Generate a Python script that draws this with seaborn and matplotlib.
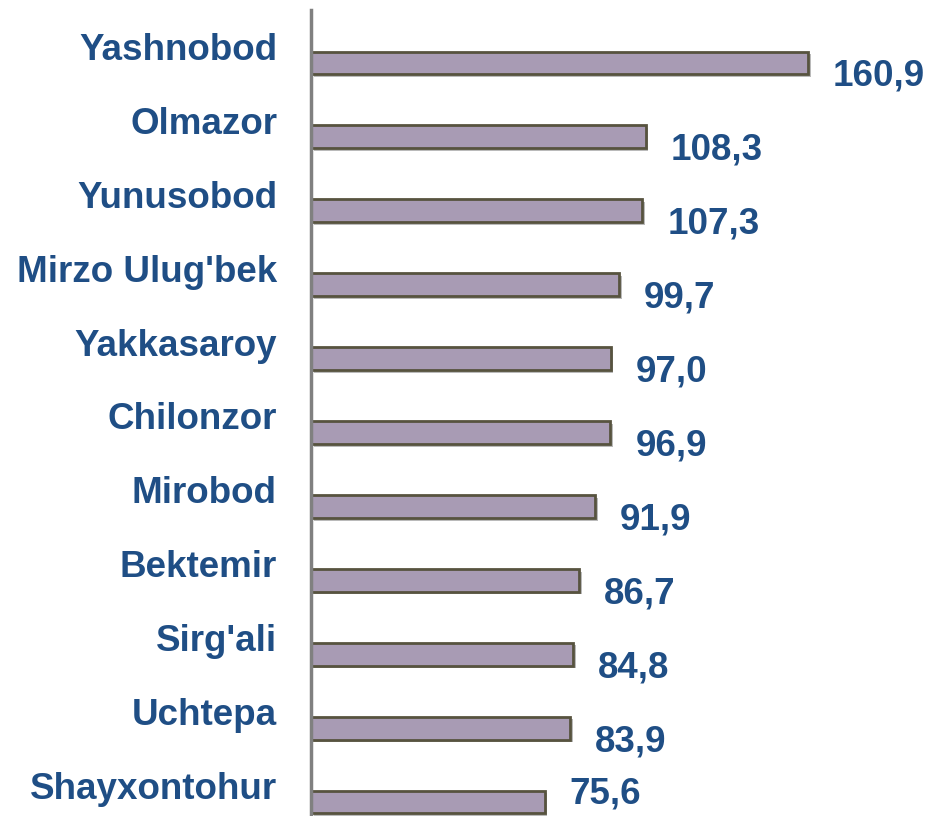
import matplotlib
matplotlib.use("Agg")
import matplotlib.pyplot as plt
import matplotlib.patheffects as pe
import pandas as pd
import seaborn as sns

# --- data ---
districts = ["Yashnobod", "Olmazor", "Yunusobod", "Mirzo Ulug'bek", "Yakkasaroy",
             "Chilonzor", "Mirobod", "Bektemir", "Sirg'ali", "Uchtepa", "Shayxontohur"]
values = [160.9, 108.3, 107.3, 99.7, 97.0, 96.9, 91.9, 86.7, 84.8, 83.9, 75.6]
value_labels = ["160,9", "108,3", "107,3", "99,7", "97,0", "96,9",
                "91,9", "86,7", "84,8", "83,9", "75,6"]

TEXT_COLOR = "#1f4e85"
BAR_COLOR = "#a89bb4"
EDGE_COLOR = "#57533f"

sns.set_style("white")
plt.rcParams["font.family"] = ["Liberation Sans", "DejaVu Sans"]

df = pd.DataFrame({"district": districts, "value": values})

fig = plt.figure(figsize=(9.27, 8.16), dpi=100)
ax = fig.add_axes([311 / 927, 0.0, 1 - 311 / 927, 806 / 816])

sns.barplot(data=df, x="value", y="district", orient="h", order=districts,
            color=BAR_COLOR, width=0.31, edgecolor=EDGE_COLOR, linewidth=2,
            saturation=1, ax=ax)

for bar in ax.patches:
    bar.set_path_effects([pe.SimplePatchShadow(offset=(2, -2), shadow_rgbFace="#8c8c8c", alpha=0.6),
                          pe.Normal()])

ax.set_xlim(0, 199.4)
ax.set_ylim(10.19, -0.717)

# category labels, above-left of each bar
for i, name in enumerate(districts):
    ax.annotate(name, xy=(0, i), xytext=(-34, 3), textcoords="offset pixels",
                ha="right", va="baseline", fontsize=26.5, fontweight="bold",
                color=TEXT_COLOR, annotation_clip=False)

# value labels, right of and below each bar end (last one kept inside the frame)
for i, (v, lab) in enumerate(zip(values, value_labels)):
    dy = -23 if i < len(values) - 1 else -2
    ax.annotate(lab, xy=(v, i), xytext=(25, dy), textcoords="offset pixels",
                ha="left", va="baseline", fontsize=26.5, fontweight="bold",
                color=TEXT_COLOR, annotation_clip=False)

ax.set_xlabel("")
ax.set_ylabel("")
ax.set_xticks([])
ax.set_yticks([])
sns.despine(ax=ax, top=True, right=True, bottom=True, left=False)
ax.spines["left"].set_color("#808080")
ax.spines["left"].set_linewidth(2.5)

fig.savefig("out.png", dpi=100)
